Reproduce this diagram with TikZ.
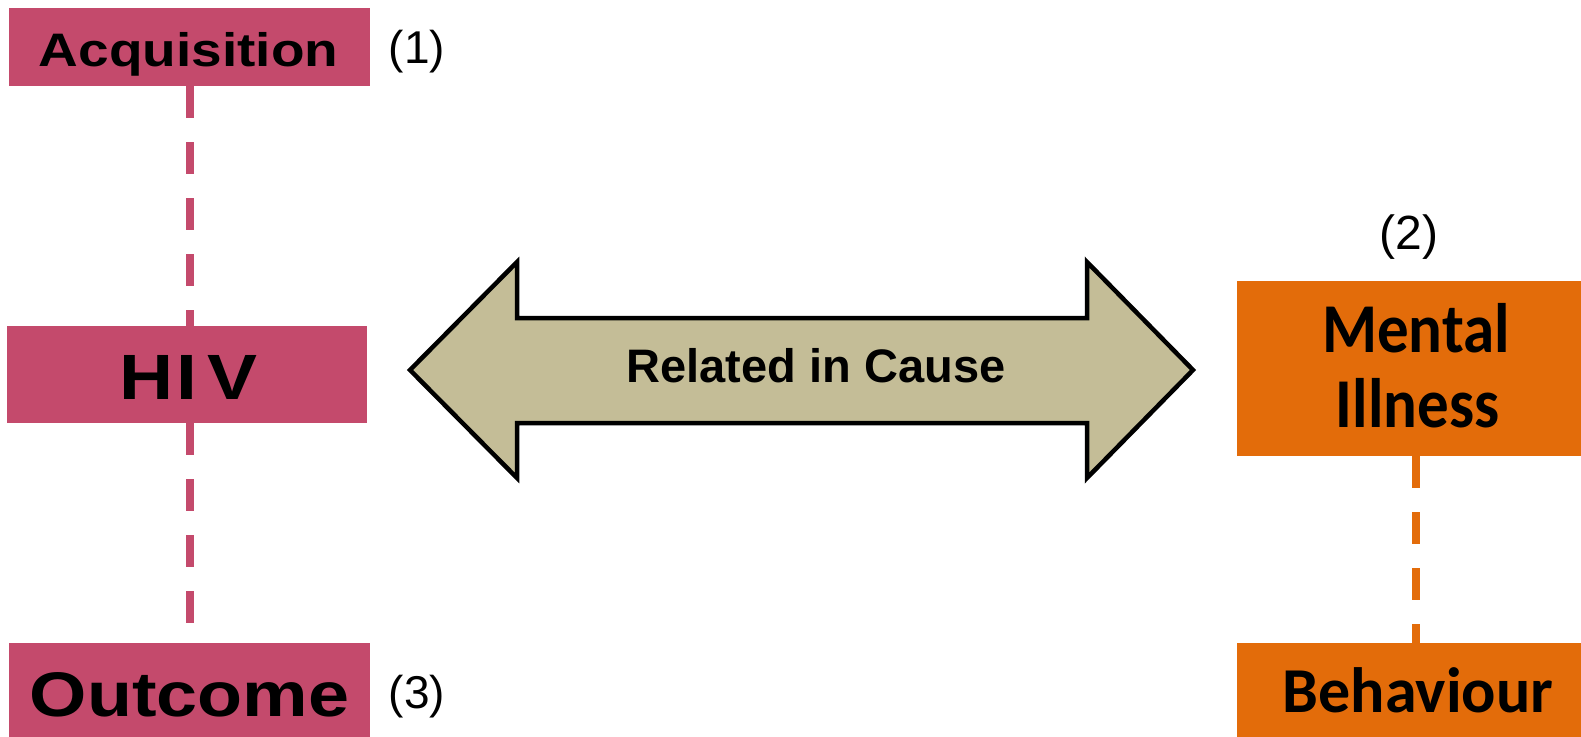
\documentclass[tikz,border=0pt]{standalone}
\usepackage{fontspec}
\setmainfont{Liberation Sans}
\newfontfamily\calibfont{Carlito}
\usetikzlibrary{calc}
\definecolor{hivpink}{RGB}{196,74,108}
\definecolor{mhorange}{RGB}{227,108,10}
\definecolor{causetan}{RGB}{196,189,151}
\newcommand{\fsz}[1]{\fontsize{#1}{#1}\selectfont}

\begin{document}
\begin{tikzpicture}[x=1pt,y=-1pt,
  pinkbox/.style={rectangle, fill=hivpink, draw=none, inner sep=0pt},
  orangebox/.style={rectangle, fill=mhorange, draw=none, inner sep=0pt},
  boxtext/.style={anchor=base, inner sep=0pt, text=black},
  numlabel/.style={anchor=base, inner sep=0pt, text=black},
  pinklink/.style={draw=hivpink, line width=8pt, dash pattern=on 32pt off 24pt},
  orangelink/.style={draw=mhorange, line width=8pt, dash pattern=on 32pt off 24pt},
  causearrow/.style={fill=causetan, draw=black, line width=4.5pt, line join=miter}
]
\useasboundingbox (0,0) rectangle (1581,736);

% HIV column
\node[pinkbox, minimum width=361pt, minimum height=78pt] (acq) at (189.5,47) {};
\node[pinkbox, minimum width=360pt, minimum height=97pt] (hiv) at (187,374.5) {};
\node[pinkbox, minimum width=361pt, minimum height=97pt] (out) at (189.5,691.5) {};

\node[boxtext, font=\bfseries\fsz{47}] (acqtext) at (188.5,66) {\scalebox{1.17}[1]{Acquisition}};
\node[boxtext, font=\bfseries\fsz{64}] (hivtext) at (188.5,399) {\scalebox{1.17}[1]{H\kern2.5pt I\kern8.5pt V}};
\node[boxtext, font=\bfseries\fsz{63}] (outtext) at (189.5,716) {\scalebox{1.17}[1]{Outcome}};

\node[numlabel, font=\fsz{46}] (n1) at (417,63) {(1)};
\node[numlabel, font=\fsz{46}] (n3) at (417,708) {(3)};

\draw[pinklink] (acq.south) -- (acq.south |- hiv.north);
\draw[pinklink] (hiv.south -| acq.south) -- (out.north -| acq.south);

% Mental illness column
\node[orangebox, minimum width=358pt, minimum height=175pt] (mh) at (1416,368.5) {};
\node[orangebox, minimum width=358pt, minimum height=97pt] (beh) at (1416,691.5) {};

\node[boxtext, font=\calibfont\bfseries\fsz{70}] (mhtext1) at (1416,352) {\scalebox{0.9}[1]{Mental}};
\node[boxtext, font=\calibfont\bfseries\fsz{70}] (mhtext2) at (1417.5,427) {\scalebox{0.9}[1]{Illness}};
\node[boxtext, font=\calibfont\bfseries\fsz{64}] (behtext) at (1418,712) {Behaviour};

\node[numlabel, font=\fsz{48}] (n2) at (1409,249) {(2)};

\draw[orangelink] (mh.south) -- (mh.south |- beh.north);

% double-headed arrow between the two columns
\draw[causearrow] (410,370) -- (517,262) -- (517,318) -- (1087,318) -- (1087,262)
  -- (1193,370) -- (1087,478) -- (1087,423) -- (517,423) -- (517,478) -- cycle;
\node[boxtext, font=\bfseries\fsz{47}] (cause) at (816,382) {Related in Cause};
\end{tikzpicture}
\end{document}
